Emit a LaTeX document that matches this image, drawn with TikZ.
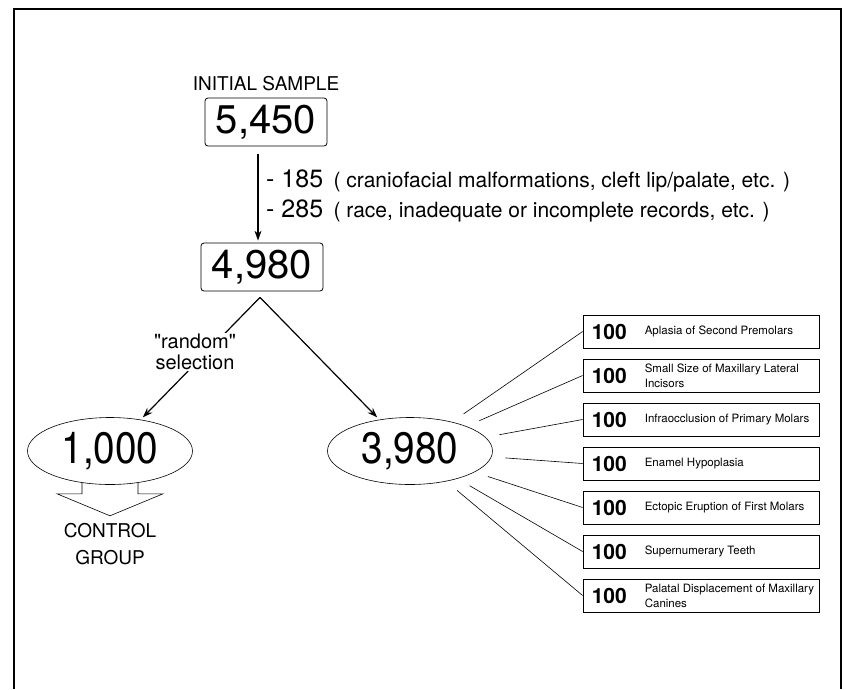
\documentclass[tikz,border=0pt]{standalone}
\usepackage{fontspec}
\setmainfont{TeX Gyre Heros}
\newfontfamily\narrowsans[FakeStretch=0.88]{TeX Gyre Heros}
\usetikzlibrary{arrows.meta,positioning,calc,shapes.geometric}

\tikzset{
  bignum/.style={font=\fontsize{40}{44}\selectfont},
  countbox/.style={draw, rounded corners=3pt, line width=0.8pt, minimum width=122pt, minimum height=48pt, inner sep=0pt, bignum},
  countoval/.style={draw, ellipse, line width=0.6pt, minimum width=165pt, minimum height=67pt, inner sep=0pt,
    font=\narrowsans\fontsize{44}{48}\selectfont},
  arr/.style={line width=1.2pt, -{Stealth[length=10pt,width=7pt]}},
  ray/.style={line width=0.6pt, shorten <=14pt},
  minus/.style={font=\fontsize{25}{27}\selectfont, inner sep=1pt},
  reason/.style={font=\fontsize{21}{23}\selectfont, inner sep=1pt},
  pick/.style={font=\fontsize{20}{21}\selectfont, align=center, inner sep=1pt},
  group/.style={font=\fontsize{19}{27}\selectfont, align=center, inner sep=1pt},
  catbox/.style={draw, line width=0.8pt, minimum width=236pt, minimum height=33pt},
  catnum/.style={font=\fontsize{21}{22}\selectfont\bfseries, inner sep=0pt},
  catlbl/.style={font=\fontsize{11.5}{15}\selectfont, align=left, inner sep=0pt}
}

\begin{document}
\begin{tikzpicture}[x=1pt, y=-1pt]
\useasboundingbox (0,0) rectangle (846,689);
% frame, open at the bottom
\draw[line width=2pt] (13,9) -- (842,9);
\draw[line width=2.6pt] (14,8) -- (14,689);
\draw[line width=1.6pt] (841,8) -- (841,689);

% sample sizes
\node[countbox] (s5450) at (266,122) {5,450};
\node[font=\fontsize{19}{20}\selectfont, above=3pt of s5450] (init) {INITIAL SAMPLE};
\node[countbox] (s4980) at (262,267) {4,980};

\coordinate (drop) at (258,0);
\draw[arr, shorten <=8pt, shorten >=2pt] (s5450.south -| drop) -- (s4980.north -| drop);

% exclusions
\node[minus, anchor=base west] (m185) at (265,187) {- 185};
\node[reason, anchor=base west] (r185) at ([xshift=8pt]m185.base east) {( craniofacial malformations, cleft lip/palate, etc. )};
\node[minus, anchor=base west] (m285) at (265,217) {- 285};
\node[reason, anchor=base west] (r285) at ([xshift=8pt]m285.base east) {( race, inadequate or incomplete records, etc. )};

% split
\coordinate (fork) at ($(s4980.south)+(-2,6)$);
\node[countoval] (c1000) at (110,451) {1,000};
\node[countoval] (c3980) at (410,451) {3,980};
\draw[arr, shorten >=3pt] (fork) -- (c1000);
\draw[arr, shorten >=3pt] (fork) -- (c3980);
\node[pick, fill=white] (rand) at (195,352) {\textquotedbl random\textquotedbl\\selection};

% hollow arrow to the control group
\draw[line width=0.6pt] ($(c1000.south)+(-28,-2)$) -- ++(0,11) -- ++(-25,0)
  -- ++(53,22) coordinate (tip) -- ++(53,-22) -- ++(-25,0) -- ++(0,-11);
\node[group, below=6pt of tip] (ctrl) {CONTROL\\GROUP};

% anomaly groups
\foreach \lbl [count=\i] in {Aplasia of Second Premolars,
    Small Size of Maxillary Lateral\\Incisors,
    Infraocclusion of Primary Molars,
    Enamel Hypoplasia,
    Ectopic Eruption of First Molars,
    Supernumerary Teeth,
    Palatal Displacement of Maxillary\\Canines} {
  \node[catbox] (b\i) at (701,{287.5+44*\i}) {};
  \node[catnum, anchor=west] (n\i) at ([xshift=9pt]b\i.west) {100};
  \node[catlbl, anchor=west] (l\i) at ([xshift=62pt]b\i.west) {\lbl};
  \draw[ray] (c3980) -- (b\i.west);
}
\end{tikzpicture}
\end{document}
